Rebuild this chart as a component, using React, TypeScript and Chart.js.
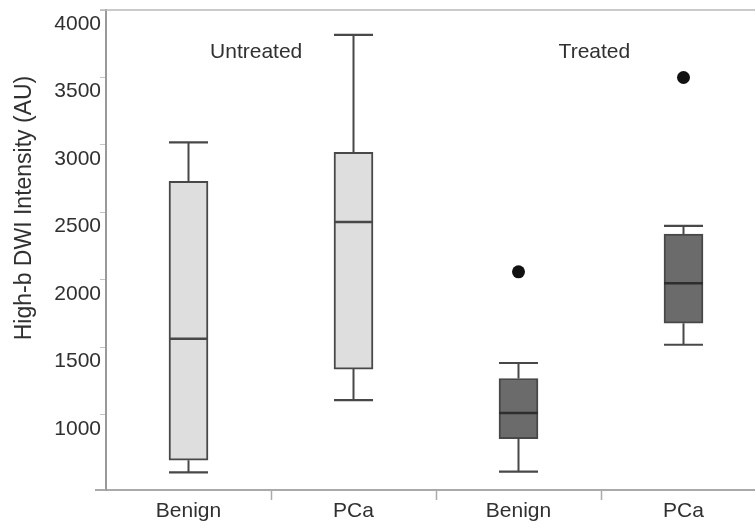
import React, { useEffect, useRef } from "react";
import { Chart, registerables } from "chart.js";

Chart.register(...registerables);

// ---- data ----
const categories = ["Benign", "PCa", "Benign", "PCa"];
const groupLabels = ["Untreated", "Treated"];
const treated = [false, false, true, true];
const whiskerLow = [575, 1110, 580, 1520];
const q1 = [665, 1340, 825, 1680];
const median = [1565, 2430, 1015, 1975];
const q3 = [2730, 2945, 1270, 2340];
const whiskerHigh = [3020, 3815, 1385, 2400];
const outlierIndex = [2, 3];
const outlierValue = [2060, 3500];
const yTicks = [1000, 1500, 2000, 2500, 3000, 3500, 4000];
const yTitle = "High-b DWI Intensity (AU)";

const FONT = "'Liberation Sans', Arial, sans-serif";
const TEXT = "#303030";
const EDGE = "#484848";

const outlierSeries: (number | null)[] = categories.map((_, i) => {
  const k = outlierIndex.indexOf(i);
  return k >= 0 ? outlierValue[k] : null;
});

const boxExtras = {
  id: "boxExtras",
  afterDatasetsDraw(chart: any) {
    const { ctx, scales } = chart;
    const y = scales.y;
    const meta = chart.getDatasetMeta(0);
    ctx.save();
    ctx.strokeStyle = EDGE;
    ctx.lineCap = "butt";
    meta.data.forEach((bar: any, i: number) => {
      const cx = bar.x;
      const half = bar.width / 2;
      ctx.lineWidth = 2;
      ctx.beginPath();
      ctx.moveTo(cx, y.getPixelForValue(q3[i]));
      ctx.lineTo(cx, y.getPixelForValue(whiskerHigh[i]));
      ctx.moveTo(cx, y.getPixelForValue(q1[i]));
      ctx.lineTo(cx, y.getPixelForValue(whiskerLow[i]));
      ctx.stroke();
      ctx.lineWidth = 2.2;
      ctx.beginPath();
      const yh = y.getPixelForValue(whiskerHigh[i]);
      const yl = y.getPixelForValue(whiskerLow[i]);
      ctx.moveTo(cx - half, yh);
      ctx.lineTo(cx + half, yh);
      ctx.moveTo(cx - half, yl);
      ctx.lineTo(cx + half, yl);
      ctx.stroke();
      ctx.lineWidth = 2.5;
      ctx.strokeStyle = treated[i] ? "#2e2e2e" : EDGE;
      ctx.beginPath();
      const ym = y.getPixelForValue(median[i]);
      ctx.moveTo(cx - half, ym);
      ctx.lineTo(cx + half, ym);
      ctx.stroke();
      ctx.strokeStyle = EDGE;
    });
    ctx.restore();
  },
  afterDraw(chart: any) {
    const { ctx, chartArea, scales } = chart;
    const x = scales.x;
    ctx.save();
    // frame extras
    ctx.strokeStyle = "#b8b8b8";
    ctx.lineWidth = 1.5;
    ctx.beginPath();
    ctx.moveTo(chartArea.left - 6, chartArea.top);
    ctx.lineTo(chartArea.right, chartArea.top);
    ctx.stroke();
    ctx.strokeStyle = "#aaaaaa";
    ctx.lineWidth = 2;
    ctx.beginPath();
    ctx.moveTo(chartArea.left - 11, chartArea.bottom);
    ctx.lineTo(chartArea.left, chartArea.bottom);
    ctx.stroke();
    // group labels
    ctx.fillStyle = TEXT;
    ctx.font = `21px ${FONT}`;
    ctx.textAlign = "center";
    ctx.textBaseline = "middle";
    const groupPos = [0.41, 2.46];
    groupLabels.forEach((g, i) => {
      ctx.fillText(g, x.getPixelForValue(groupPos[i]), chartArea.top + 42);
    });
    // y title
    ctx.font = `23px ${FONT}`;
    ctx.translate(25, 208);
    ctx.rotate(-Math.PI / 2);
    ctx.fillText(yTitle, 0, 0);
    ctx.restore();
  },
};

export default function App() {
  const ref = useRef<HTMLCanvasElement | null>(null);
  useEffect(() => {
    if (!ref.current) return;
    Chart.defaults.font.family = FONT;
    const chart = new Chart(ref.current, {
      type: "bar",
      data: {
        labels: categories,
        datasets: [
          {
            type: "bar",
            order: 1,
            data: q1.map((v, i) => [v, q3[i]]) as any,
            backgroundColor: treated.map((t) => (t ? "#6b6b6b" : "#dedede")),
            borderColor: EDGE,
            borderWidth: 2,
            borderSkipped: false,
            barThickness: 39,
            grouped: false,
          } as any,
          {
            type: "line",
            order: 0,
            data: outlierSeries as any,
            showLine: false,
            spanGaps: false,
            pointRadius: 6.5,
            pointBackgroundColor: "#111111",
            pointBorderWidth: 0,
            pointHoverRadius: 6.5,
          } as any,
        ],
      },
      options: {
        animation: false,
        responsive: true,
        maintainAspectRatio: false,
        layout: { padding: { top: 10, right: 14, left: 0, bottom: 0 } },
        plugins: { legend: { display: false }, tooltip: { enabled: false } },
        scales: {
          x: {
            type: "category",
            offset: true,
            grid: {
              offset: true,
              drawOnChartArea: false,
              drawTicks: true,
              tickLength: 10,
              color: (c: any) => (c.index === 0 ? "rgba(0,0,0,0)" : "#aaaaaa"),
              tickWidth: 1.5,
            },
            border: { color: "#aaaaaa", width: 2 },
            ticks: { color: TEXT, font: { size: 21, family: FONT }, padding: -1 },
            afterFit: (s: any) => {
              s.height = 41;
            },
          },
          y: {
            type: "linear",
            min: 444,
            max: 4000,
            afterBuildTicks: (s: any) => {
              s.ticks = yTicks.map((v) => ({ value: v }));
            },
            grid: { drawOnChartArea: false, tickLength: 6, color: "#c4c4c4" },
            border: { color: "#999999", width: 2 },
            ticks: {
              color: TEXT,
              font: { size: 21, family: FONT },
              labelOffset: 14,
              padding: -1,
              callback: (v: any) => String(v),
            },
            afterFit: (s: any) => {
              s.width = 106;
              s.paddingTop = 0;
              s.paddingBottom = 0;
            },
          },
        },
      } as any,
      plugins: [boxExtras],
    });
    return () => chart.destroy();
  }, []);
  return (
    <div
      style={{
        position: "fixed",
        left: 0,
        top: 0,
        width: 780,
        height: 531,
        background: "#ffffff",
      }}
    >
      <canvas ref={ref} />
    </div>
  );
}
